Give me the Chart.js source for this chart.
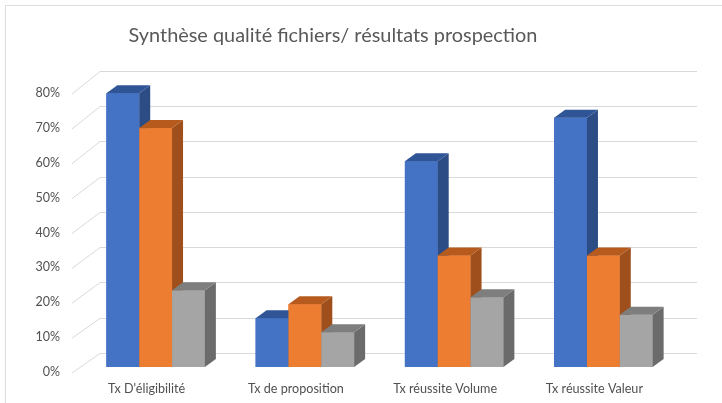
<!DOCTYPE html>
<html>
<head>
<meta charset="utf-8">
<script src="https://cdn.jsdelivr.net/npm/chart.js@4/dist/chart.umd.min.js"></script>
<style>
  html, body { margin: 0; padding: 0; background: #fff; overflow: hidden; }
  #wrap { position: relative; width: 722px; height: 403px; overflow: hidden; }
  #frame { position: absolute; left: 5px; top: 5px; width: 800px; height: 500px; border: 1px solid #dedede; }
  canvas { position: absolute; left: 0; top: 0; }
</style>
</head>
<body>
<div id="wrap">
  <div id="frame"></div>
  <canvas id="myChart" width="722" height="403"></canvas>
</div>
<script>
// data
const titre = 'Synthèse qualité fichiers/ résultats prospection';
const categories = ["Tx D'éligibilité", 'Tx de proposition', 'Tx réussite Volume', 'Tx réussite Valeur'];
const serie1 = [0.785, 0.14, 0.59, 0.715];
const serie2 = [0.685, 0.18, 0.32, 0.32];
const serie3 = [0.22, 0.10, 0.20, 0.15];
const yTicks = [0, 0.1, 0.2, 0.3, 0.4, 0.5, 0.6, 0.7, 0.8];

// fake 3d look (excel style)
const BAR_D = { dx: 11, dy: -8 };
const WALL_D = { dx: 19, dy: -14 };
const FONT = 'Lato, "Open Sans", sans-serif';

function poly(ctx, pts) {
  ctx.beginPath();
  ctx.moveTo(pts[0][0], pts[0][1]);
  for (let i = 1; i < pts.length; i++) ctx.lineTo(pts[i][0], pts[i][1]);
  ctx.closePath();
  ctx.fill();
}

const excel3d = {
  id: 'excel3d',
  beforeDatasetsDraw(chart) {
    const ctx = chart.ctx, a = chart.chartArea, y = chart.scales.y;
    ctx.save();
    ctx.strokeStyle = '#d9d9d9';
    ctx.lineWidth = 1;
    yTicks.forEach(function (v) {
      const py = y.getPixelForValue(v);
      const by = Math.round(a.bottom + WALL_D.dy - (a.bottom - py) * 1.012) + 0.5;
      ctx.beginPath();
      ctx.moveTo(a.left - 9, py + 6);
      ctx.lineTo(a.left + WALL_D.dx, by);
      ctx.lineTo(a.right + WALL_D.dx, by);
      ctx.stroke();
    });
    ctx.restore();
  },
  afterDatasetsDraw(chart) {
    const ctx = chart.ctx;
    ctx.save();
    chart.data.datasets.forEach(function (ds, i) {
      chart.getDatasetMeta(i).data.forEach(function (bar) {
        const p = bar.getProps(['x', 'y', 'base', 'width'], true);
        const l = p.x - p.width / 2, r = p.x + p.width / 2;
        ctx.fillStyle = ds.backgroundColor;
        ctx.fillRect(l, p.y, p.width, p.base - p.y);
        ctx.fillStyle = ds.sideColor;
        poly(ctx, [[r, p.y], [r + BAR_D.dx, p.y + BAR_D.dy], [r + BAR_D.dx, p.base + BAR_D.dy], [r, p.base]]);
        ctx.fillStyle = ds.topColor;
        poly(ctx, [[l, p.y], [l + BAR_D.dx, p.y + BAR_D.dy], [r + BAR_D.dx, p.y + BAR_D.dy], [r, p.y]]);
      });
    });
    ctx.restore();
  },
  afterDraw(chart) {
    const ctx = chart.ctx;
    ctx.save();
    ctx.font = '100px ' + FONT;
    const size = 100 * 410 / ctx.measureText(titre).width;
    ctx.font = size.toFixed(1) + 'px ' + FONT;
    ctx.fillStyle = '#595959';
    ctx.textAlign = 'center';
    ctx.textBaseline = 'alphabetic';
    ctx.fillText(titre, 333, 42);
    ctx.restore();
  }
};

Chart.defaults.font.family = FONT;
Chart.defaults.color = '#505050';

var ctx = document.getElementById('myChart').getContext('2d');
var chart = new Chart(ctx, {
  type: 'bar',
  data: {
    labels: categories,
    datasets: [
      { label: 'Série1', data: serie1, backgroundColor: '#4472c4', sideColor: '#2c4c86', topColor: '#2f5597' },
      { label: 'Série2', data: serie2, backgroundColor: '#ed7d31', sideColor: '#9e4f1c', topColor: '#b65a1e' },
      { label: 'Série3', data: serie3, backgroundColor: '#a5a5a5', sideColor: '#6b6b6b', topColor: '#7e7e7e' }
    ]
  },
  options: {
    responsive: false,
    animation: false,
    devicePixelRatio: 1,
    layout: { padding: { top: 88, left: 35, right: 44, bottom: 6 } },
    datasets: { bar: { barPercentage: 1, categoryPercentage: 0.66, borderWidth: 0 } },
    plugins: {
      legend: { display: false },
      tooltip: { enabled: false },
      title: { display: false }
    },
    scales: {
      x: {
        grid: { display: false, drawTicks: false },
        border: { display: false },
        ticks: { font: { size: 12.6 }, padding: 14, labelOffset: -9, maxRotation: 0 },
        afterFit: function (s) { s.height = 30; }
      },
      y: {
        min: 0,
        max: 0.8,
        grid: { display: false, drawTicks: false },
        border: { display: false },
        afterBuildTicks: function (s) { s.ticks = yTicks.map(function (v) { return { value: v }; }); },
        ticks: {
          font: { size: 12.5 },
          padding: 21,
          labelOffset: 5,
          callback: function (v) { return Math.round(v * 100) + '%'; }
        },
        afterFit: function (s) { s.width = 46; }
      }
    }
  },
  plugins: [excel3d]
});
</script>
</body>
</html>
